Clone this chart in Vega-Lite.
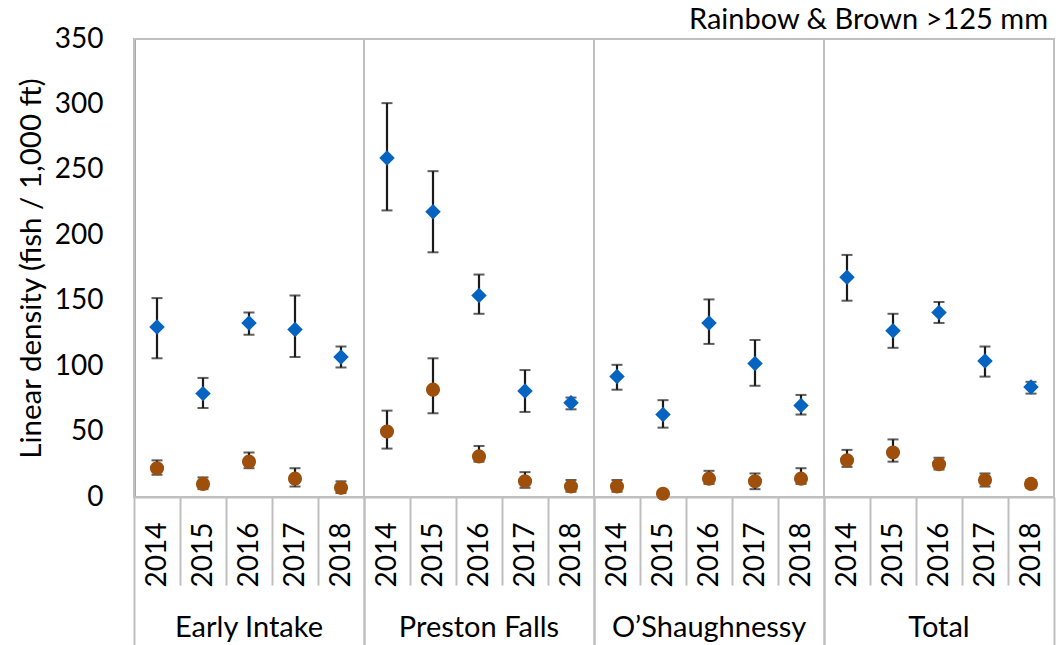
{
  "$schema": "https://vega.github.io/schema/vega-lite/v6.json",
  "padding": {"left": 16, "top": 6, "right": 5, "bottom": 0},
  "background": "white",
  "title": {"text": "Rainbow & Brown >125 mm", "anchor": "end", "font": "Lato", "fontSize": 29, "fontWeight": "normal", "color": "#000000", "offset": -10, "dx": -8},
  "data": {"values": [
    {"site": "Early Intake", "year": "2014", "species": "Rainbow", "value": 130, "lo": 106, "hi": 152},
    {"site": "Early Intake", "year": "2015", "species": "Rainbow", "value": 79, "lo": 68, "hi": 91},
    {"site": "Early Intake", "year": "2016", "species": "Rainbow", "value": 133, "lo": 124, "hi": 141},
    {"site": "Early Intake", "year": "2017", "species": "Rainbow", "value": 128, "lo": 107, "hi": 154},
    {"site": "Early Intake", "year": "2018", "species": "Rainbow", "value": 107, "lo": 99, "hi": 115},
    {"site": "Early Intake", "year": "2014", "species": "Brown", "value": 22, "lo": 17, "hi": 28},
    {"site": "Early Intake", "year": "2015", "species": "Brown", "value": 10, "lo": 6, "hi": 15},
    {"site": "Early Intake", "year": "2016", "species": "Brown", "value": 27, "lo": 22, "hi": 34},
    {"site": "Early Intake", "year": "2017", "species": "Brown", "value": 14, "lo": 8, "hi": 22},
    {"site": "Early Intake", "year": "2018", "species": "Brown", "value": 7, "lo": 3, "hi": 12},
    {"site": "Preston Falls", "year": "2014", "species": "Rainbow", "value": 259, "lo": 219, "hi": 301},
    {"site": "Preston Falls", "year": "2015", "species": "Rainbow", "value": 218, "lo": 187, "hi": 249},
    {"site": "Preston Falls", "year": "2016", "species": "Rainbow", "value": 154, "lo": 140, "hi": 170},
    {"site": "Preston Falls", "year": "2017", "species": "Rainbow", "value": 81, "lo": 65, "hi": 97},
    {"site": "Preston Falls", "year": "2018", "species": "Rainbow", "value": 72, "lo": 67, "hi": 76},
    {"site": "Preston Falls", "year": "2014", "species": "Brown", "value": 50, "lo": 37, "hi": 66},
    {"site": "Preston Falls", "year": "2015", "species": "Brown", "value": 82, "lo": 64, "hi": 106},
    {"site": "Preston Falls", "year": "2016", "species": "Brown", "value": 31, "lo": 27, "hi": 39},
    {"site": "Preston Falls", "year": "2017", "species": "Brown", "value": 12, "lo": 7, "hi": 19},
    {"site": "Preston Falls", "year": "2018", "species": "Brown", "value": 8, "lo": 4, "hi": 13},
    {"site": "O’Shaughnessy", "year": "2014", "species": "Rainbow", "value": 92, "lo": 82, "hi": 101},
    {"site": "O’Shaughnessy", "year": "2015", "species": "Rainbow", "value": 63, "lo": 53, "hi": 74},
    {"site": "O’Shaughnessy", "year": "2016", "species": "Rainbow", "value": 133, "lo": 117, "hi": 151},
    {"site": "O’Shaughnessy", "year": "2017", "species": "Rainbow", "value": 102, "lo": 85, "hi": 120},
    {"site": "O’Shaughnessy", "year": "2018", "species": "Rainbow", "value": 70, "lo": 63, "hi": 78},
    {"site": "O’Shaughnessy", "year": "2014", "species": "Brown", "value": 8, "lo": 4, "hi": 13},
    {"site": "O’Shaughnessy", "year": "2015", "species": "Brown", "value": 2.5, "lo": 1.5, "hi": 3.5},
    {"site": "O’Shaughnessy", "year": "2016", "species": "Brown", "value": 14, "lo": 10, "hi": 20},
    {"site": "O’Shaughnessy", "year": "2017", "species": "Brown", "value": 12, "lo": 6, "hi": 18},
    {"site": "O’Shaughnessy", "year": "2018", "species": "Brown", "value": 14, "lo": 10, "hi": 22},
    {"site": "Total", "year": "2014", "species": "Rainbow", "value": 168, "lo": 150, "hi": 185},
    {"site": "Total", "year": "2015", "species": "Rainbow", "value": 127, "lo": 114, "hi": 140},
    {"site": "Total", "year": "2016", "species": "Rainbow", "value": 141, "lo": 133, "hi": 149},
    {"site": "Total", "year": "2017", "species": "Rainbow", "value": 104, "lo": 92, "hi": 115},
    {"site": "Total", "year": "2018", "species": "Rainbow", "value": 84, "lo": 79, "hi": 88},
    {"site": "Total", "year": "2014", "species": "Brown", "value": 28, "lo": 23, "hi": 36},
    {"site": "Total", "year": "2015", "species": "Brown", "value": 34, "lo": 27, "hi": 44},
    {"site": "Total", "year": "2016", "species": "Brown", "value": 25, "lo": 21, "hi": 30},
    {"site": "Total", "year": "2017", "species": "Brown", "value": 13, "lo": 8, "hi": 18},
    {"site": "Total", "year": "2018", "species": "Brown", "value": 10, "lo": 7, "hi": 13}
  ]},
  "facet": {
    "column": {
      "field": "site", "type": "nominal",
      "sort": ["Early Intake", "Preston Falls", "O’Shaughnessy", "Total"],
      "header": {"title": null, "labelOrient": "bottom", "labelFont": "Lato", "labelFontSize": 29, "labelColor": "#000000", "labelPadding": 117}
    }
  },
  "spacing": 0,
  "bounds": "flush",
  "resolve": {"axis": {"x": "independent"}},
  "spec": {
    "width": 230,
    "height": 458,
    "encoding": {
      "x": {
        "field": "year", "type": "ordinal",
        "scale": {"type": "band", "paddingInner": 0, "paddingOuter": 0},
        "axis": {
          "title": null, "labelAngle": -90, "labelFont": "Lato", "labelFontSize": 28, "labelColor": "#000000",
          "labelOverlap": false, "labelBound": false, "labelFlush": false,
          "tickBand": "extent",
          "tickSize": {"condition": {"test": "datum.value == '2018' || !isValid(datum.value)", "value": 149}, "value": 88},
          "labelPadding": {"condition": {"test": "datum.value == '2018'", "value": -124}, "value": -63},
          "tickColor": "#bfbfbf", "tickWidth": 2,
          "domainColor": "#bfbfbf", "domainWidth": 2
        }
      }
    },
    "layer": [
      {
        "mark": {"type": "rule", "color": "#1a1a1a", "strokeWidth": 2.2},
        "encoding": {
          "y": {"field": "lo", "type": "quantitative"},
          "y2": {"field": "hi"}
        }
      },
      {
        "mark": {"type": "tick", "orient": "horizontal", "size": 11, "thickness": 2, "color": "#1a1a1a"},
        "encoding": {"y": {"field": "lo", "type": "quantitative"}}
      },
      {
        "mark": {"type": "tick", "orient": "horizontal", "size": 11, "thickness": 2, "color": "#1a1a1a"},
        "encoding": {"y": {"field": "hi", "type": "quantitative"}}
      },
      {
        "mark": {"type": "point", "filled": true, "opacity": 1},
        "encoding": {
          "y": {
            "field": "value", "type": "quantitative",
            "scale": {"domain": [0, 350], "nice": false},
            "axis": {
              "title": "Linear density (fish / 1,000 ft)", "titleFont": "Lato", "titleFontSize": 29.5, "titleFontWeight": "normal", "titleColor": "#000000", "titlePadding": 8,
              "values": [0, 50, 100, 150, 200, 250, 300, 350],
              "labelFont": "Lato", "labelFontSize": 28, "labelColor": "#000000", "labelPadding": 31,
              "ticks": false, "grid": false,
              "domainColor": "#595959", "domainWidth": 2
            }
          },
          "shape": {"field": "species", "type": "nominal", "scale": {"domain": ["Rainbow", "Brown"], "range": ["diamond", "circle"]}, "legend": null},
          "color": {"field": "species", "type": "nominal", "scale": {"domain": ["Rainbow", "Brown"], "range": ["#0563C1", "#9E4F0C"]}, "legend": null},
          "size": {"field": "species", "type": "nominal", "scale": {"domain": ["Rainbow", "Brown"], "range": [240, 200]}, "legend": null}
        }
      }
    ]
  },
  "config": {
    "view": {"stroke": "#bfbfbf", "strokeWidth": 2},
    "font": "Lato"
  }
}
